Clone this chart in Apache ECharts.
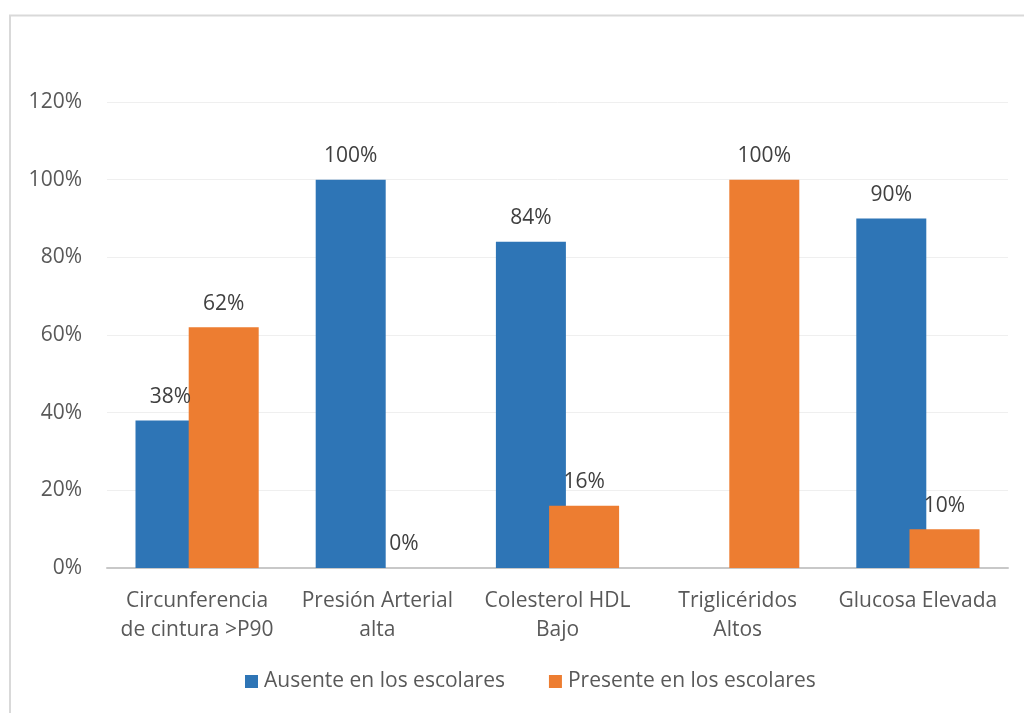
<!DOCTYPE html>
<html><head><meta charset="utf-8">
<script src="https://cdn.jsdelivr.net/npm/echarts@6/dist/echarts.min.js"></script>
<style>html,body{margin:0;padding:0;background:#fff}#c{width:1024px;height:713px}</style>
</head><body><div id="c"></div>
<script>
var categories = ['Circunferencia\nde cintura >P90', 'Presión Arterial\nalta', 'Colesterol HDL\nBajo', 'Triglicéridos\nAltos', 'Glucosa Elevada'];
var seriesNames = ['Ausente en los escolares', 'Presente en los escolares'];
var ausente = [38, 100, 84, null, 90];
var presente = [62, 0, 16, 100, 10];
var yTicks = [0, 20, 40, 60, 80, 100, 120];

var FONT = 'Open Sans';
var chart = echarts.init(document.getElementById('c'), null, {renderer: 'canvas'});
var lbl = {show: true, position: 'top', distance: 13, color: '#404040', fontSize: 21, fontFamily: FONT, formatter: '{c}%'};
chart.setOption({
  animation: false,
  graphic: [{type: 'rect', shape: {x: 10, y: 15.5, width: 1100, height: 800}, style: {fill: 'none', stroke: '#D9D9D9', lineWidth: 2}, z: -1}],
  grid: {left: 107, right: 16, top: 102, bottom: 145, containLabel: false},
  legend: {
    data: seriesNames, bottom: 16, left: 240, itemWidth: 13, itemHeight: 13, itemGap: 44,
    icon: 'rect', textStyle: {color: '#595959', fontSize: 21, fontFamily: FONT, padding: [0, 0, 0, 1]}
  },
  xAxis: {
    type: 'category', data: categories,
    axisLine: {lineStyle: {color: '#C8C8C8', width: 2}},
    axisTick: {show: false},
    axisLabel: {color: '#595959', fontSize: 21, fontFamily: FONT, margin: 19, lineHeight: 29, interval: 0}
  },
  yAxis: {
    type: 'value', min: yTicks[0], max: yTicks[yTicks.length - 1], interval: 20,
    axisLine: {show: false}, axisTick: {show: false},
    splitLine: {lineStyle: {color: '#EFEFEF', width: 1}},
    axisLabel: {color: '#595959', fontSize: 21, fontFamily: FONT, margin: 25, formatter: '{value}%'}
  },
  series: [
    {name: seriesNames[0], type: 'bar', data: ausente, barWidth: 70, barGap: '-24%', itemStyle: {color: '#2E75B6'}, label: lbl},
    {name: seriesNames[1], type: 'bar', data: presente, barWidth: 70, barGap: '-24%', itemStyle: {color: '#ED7D31'}, label: lbl}
  ]
});
</script></body></html>
